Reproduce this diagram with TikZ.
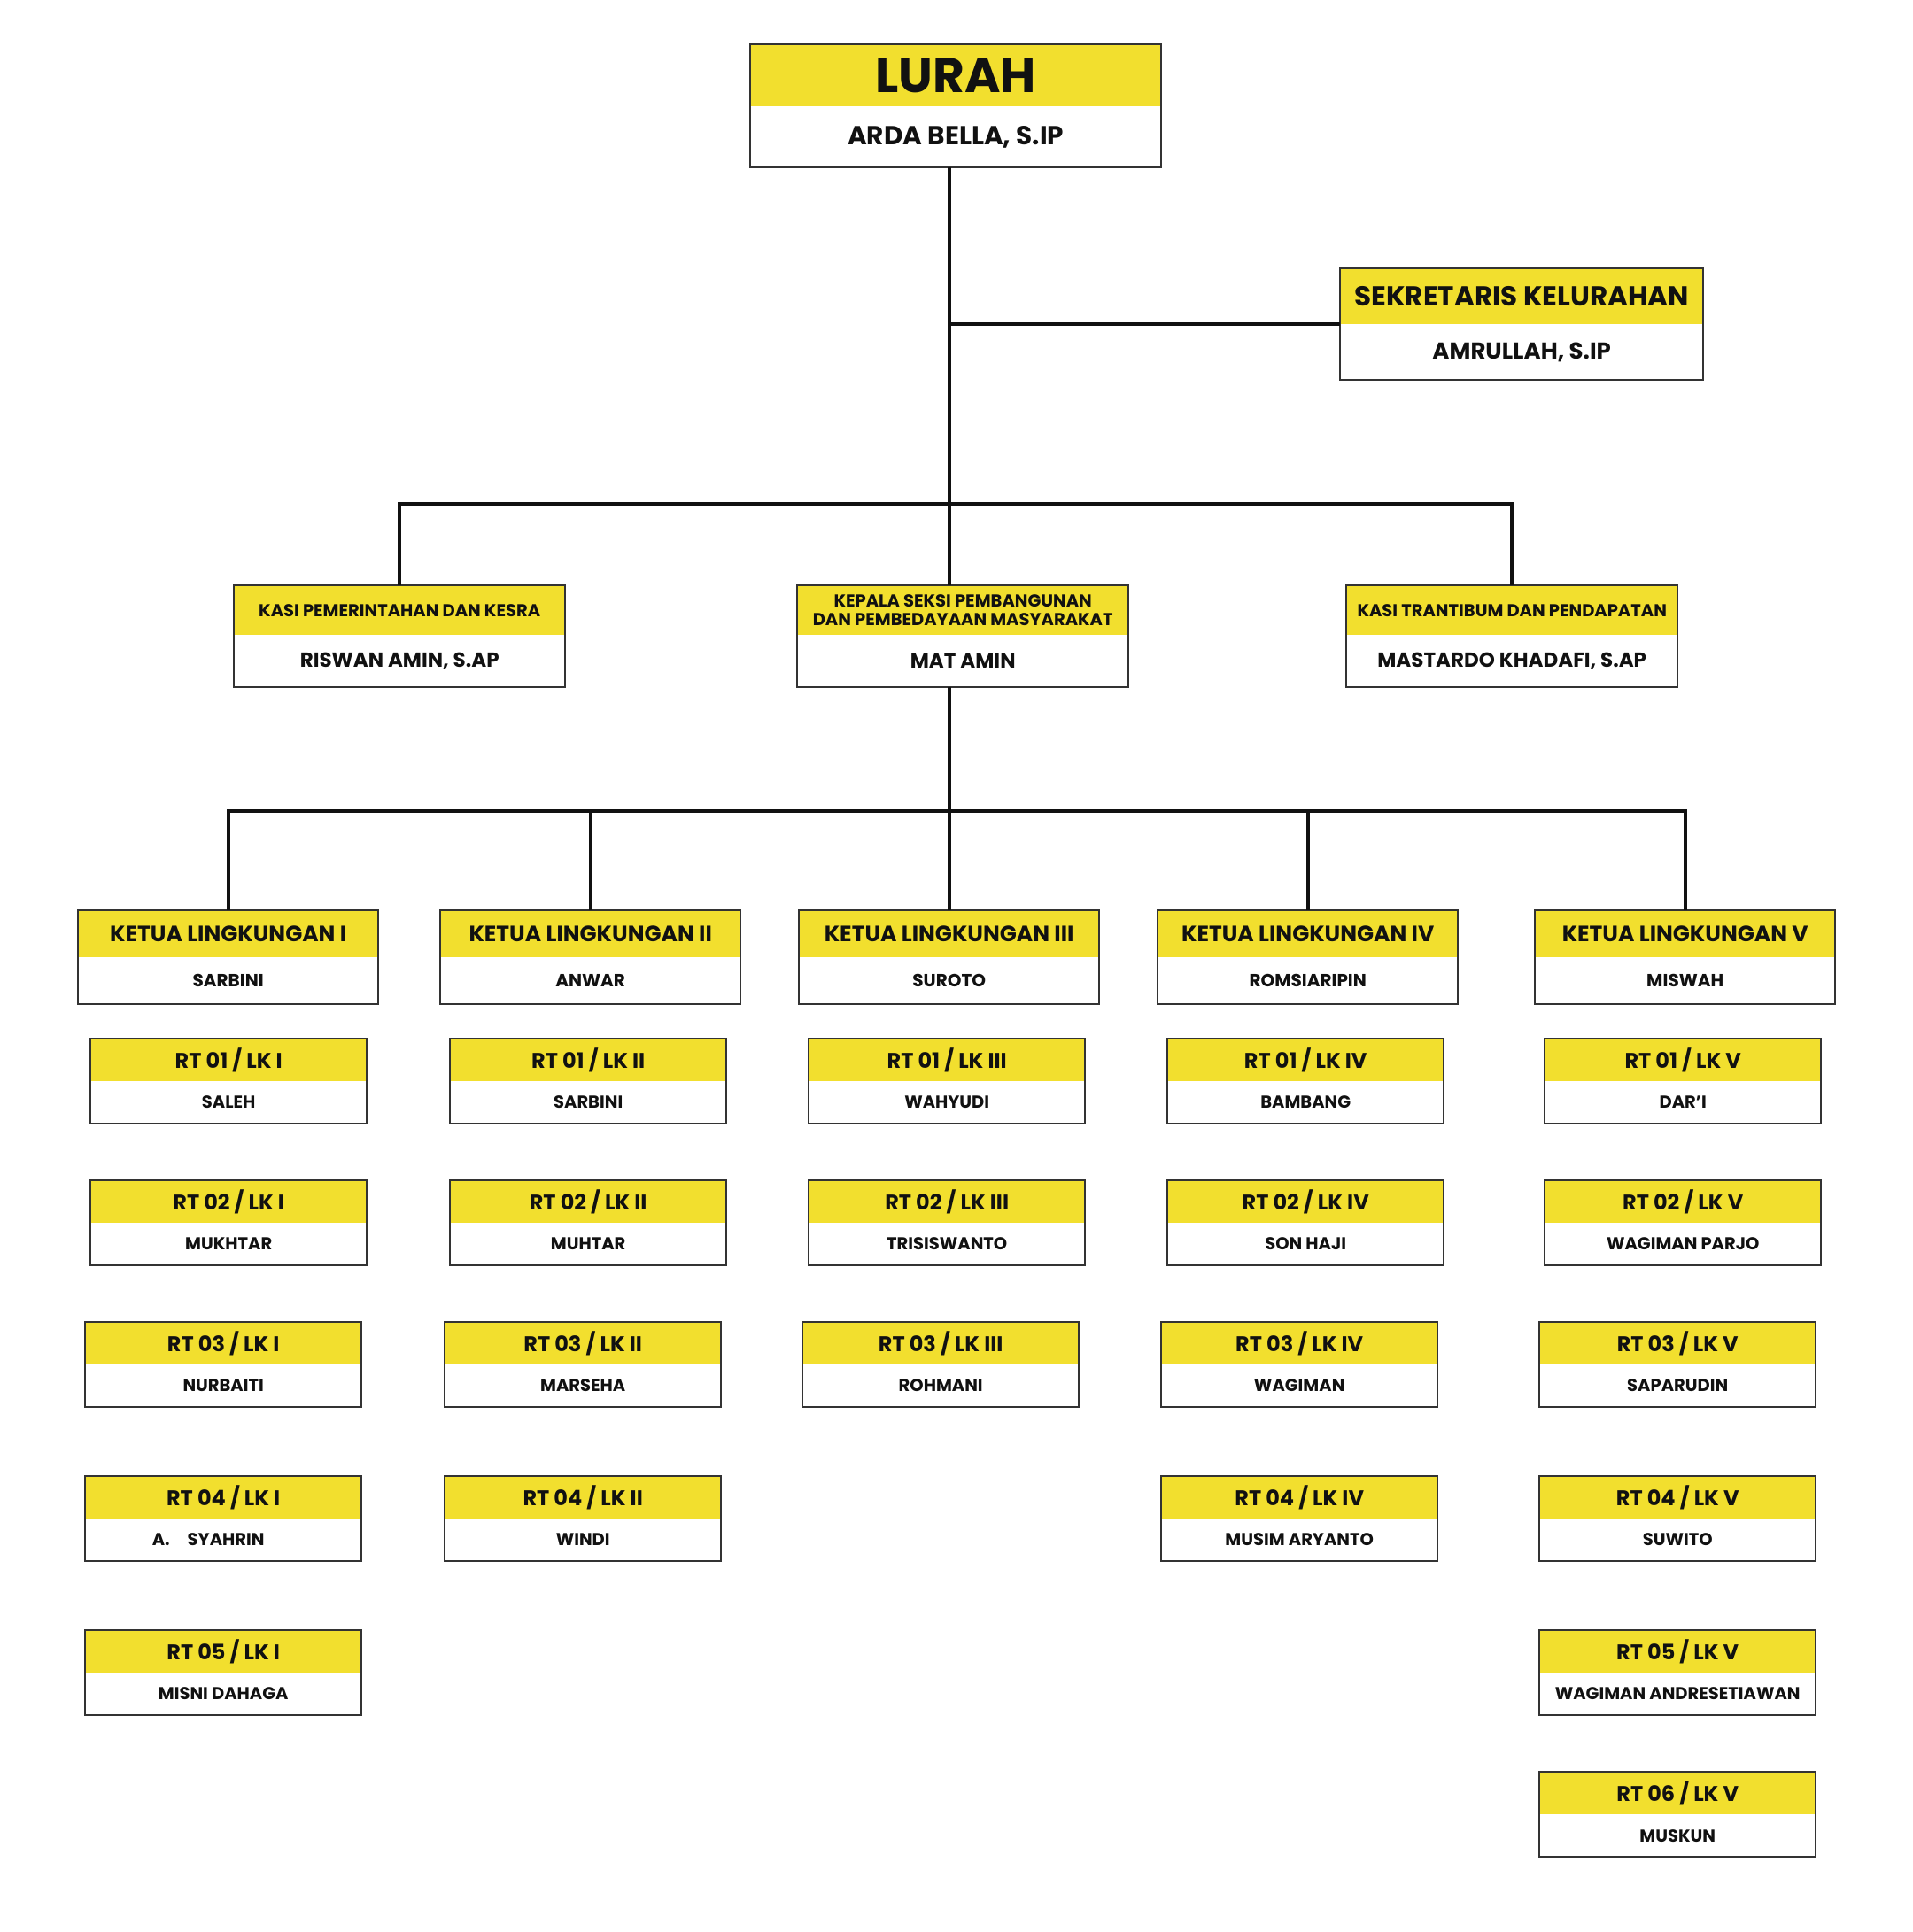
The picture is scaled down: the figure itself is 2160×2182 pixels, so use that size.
\documentclass[tikz,border=0pt]{standalone}
\usepackage{fontspec}
\setmainfont{Poppins}
\usetikzlibrary{positioning}
\definecolor{orgYellow}{HTML}{F2DF2E}
\definecolor{orgFrame}{HTML}{333333}
\definecolor{orgInk}{HTML}{111111}
\tikzset{
  hd/.style={fill=orgYellow, inner sep=0pt, anchor=north west, align=center, text=orgInk},
  nm/.style={fill=white, inner sep=0pt, align=center, text=orgInk},
  boxframe/.style={draw=orgFrame, line width=2pt},
  conn/.style={draw=orgInk, line width=4pt},
  lurahT/.style={hd, minimum width=464pt, minimum height=70pt, font=\bfseries\fontsize{55}{60}\selectfont},
  lurahN/.style={nm, minimum width=464pt, minimum height=68pt, font=\bfseries\fontsize{29.5}{32}\selectfont},
  sekT/.style={hd, minimum width=410pt, minimum height=63pt, font=\bfseries\fontsize{31}{34}\selectfont},
  sekN/.style={nm, minimum width=410pt, minimum height=62pt, font=\bfseries\fontsize{26}{29}\selectfont},
  kasiT/.style={hd, minimum width=374pt, minimum height=56pt, font=\bfseries\fontsize{19.5}{21.5}\selectfont},
  kasiN/.style={nm, minimum width=374pt, minimum height=58pt, font=\bfseries\fontsize{23}{26}\selectfont},
  ketT/.style={hd, minimum width=339pt, minimum height=53pt, font=\bfseries\fontsize{25}{28}\selectfont},
  ketN/.style={nm, minimum width=339pt, minimum height=52pt, font=\bfseries\fontsize{20}{23}\selectfont},
  rtT/.style={hd, minimum width=312pt, minimum height=48pt, font=\bfseries\fontsize{24}{27}\selectfont},
  rtN/.style={nm, minimum width=312pt, minimum height=47pt, font=\bfseries\fontsize{19.5}{22}\selectfont},
}

\begin{document}
\begin{tikzpicture}[x=1pt, y=-1pt]
  \fill[white] (0,0) rectangle (2160,2182);
  \useasboundingbox (0,0) rectangle (2160,2182);

  % pimpinan
  \node[lurahT] (lurah) at (847,50) {LURAH};
  \node[lurahN, below=0pt of lurah] (lurah-n) {ARDA BELLA, S.IP};
  \node[sekT] (sek) at (1513,303) {SEKRETARIS KELURAHAN};
  \node[sekN, below=0pt of sek] (sek-n) {AMRULLAH, S.IP};

  % kasi
  \node[kasiT] (kA) at (264,661) {KASI PEMERINTAHAN DAN KESRA};
  \node[kasiN, below=0pt of kA] (kA-n) {RISWAN AMIN, S.AP};
  \node[kasiT] (kB) at (900,661) {KEPALA SEKSI PEMBANGUNAN\\DAN PEMBEDAYAAN MASYARAKAT};
  \node[kasiN, below=0pt of kB] (kB-n) {MAT AMIN};
  \node[kasiT] (kC) at (1520,661) {KASI TRANTIBUM DAN PENDAPATAN};
  \node[kasiN, below=0pt of kC] (kC-n) {MASTARDO KHADAFI, S.AP};

  % ketua lingkungan
  \node[ketT] (k1) at (88,1028) {KETUA LINGKUNGAN I};
  \node[ketN, below=0pt of k1] (k1-n) {SARBINI};
  \node[ketT] (k2) at (497,1028) {KETUA LINGKUNGAN II};
  \node[ketN, below=0pt of k2] (k2-n) {ANWAR};
  \node[ketT] (k3) at (902,1028) {KETUA LINGKUNGAN III};
  \node[ketN, below=0pt of k3] (k3-n) {SUROTO};
  \node[ketT] (k4) at (1307,1028) {KETUA LINGKUNGAN IV};
  \node[ketN, below=0pt of k4] (k4-n) {ROMSIARIPIN};
  \node[ketT] (k5) at (1733,1028) {KETUA LINGKUNGAN V};
  \node[ketN, below=0pt of k5] (k5-n) {MISWAH};

  % RT lingkungan I
  \node[rtT] (r11) at (102,1173) {RT 01 / LK I};
  \node[rtN, below=0pt of r11] (r11-n) {SALEH};
  \node[rtT] (r12) at (102,1333) {RT 02 / LK I};
  \node[rtN, below=0pt of r12] (r12-n) {MUKHTAR};
  \node[rtT] (r13) at (96,1493) {RT 03 / LK I};
  \node[rtN, below=0pt of r13] (r13-n) {NURBAITI};
  \node[rtT] (r14) at (96,1667) {RT 04 / LK I};
  \node[rtN, below=0pt of r14] (r14-n) {A.\hspace{20pt}SYAHRIN\hspace*{34pt}};
  \node[rtT] (r15) at (96,1841) {RT 05 / LK I};
  \node[rtN, below=0pt of r15] (r15-n) {MISNI DAHAGA};

  % RT lingkungan II
  \node[rtT] (r21) at (508,1173) {RT 01 / LK II};
  \node[rtN, below=0pt of r21] (r21-n) {SARBINI};
  \node[rtT] (r22) at (508,1333) {RT 02 / LK II};
  \node[rtN, below=0pt of r22] (r22-n) {MUHTAR};
  \node[rtT] (r23) at (502,1493) {RT 03 / LK II};
  \node[rtN, below=0pt of r23] (r23-n) {MARSEHA};
  \node[rtT] (r24) at (502,1667) {RT 04 / LK II};
  \node[rtN, below=0pt of r24] (r24-n) {WINDI};

  % RT lingkungan III
  \node[rtT] (r31) at (913,1173) {RT 01 / LK III};
  \node[rtN, below=0pt of r31] (r31-n) {WAHYUDI};
  \node[rtT] (r32) at (913,1333) {RT 02 / LK III};
  \node[rtN, below=0pt of r32] (r32-n) {TRISISWANTO};
  \node[rtT] (r33) at (906,1493) {RT 03 / LK III};
  \node[rtN, below=0pt of r33] (r33-n) {ROHMANI};

  % RT lingkungan IV
  \node[rtT] (r41) at (1318,1173) {RT 01 / LK IV};
  \node[rtN, below=0pt of r41] (r41-n) {BAMBANG};
  \node[rtT] (r42) at (1318,1333) {RT 02 / LK IV};
  \node[rtN, below=0pt of r42] (r42-n) {SON HAJI};
  \node[rtT] (r43) at (1311,1493) {RT 03 / LK IV};
  \node[rtN, below=0pt of r43] (r43-n) {WAGIMAN};
  \node[rtT] (r44) at (1311,1667) {RT 04 / LK IV};
  \node[rtN, below=0pt of r44] (r44-n) {MUSIM ARYANTO};

  % RT lingkungan V
  \node[rtT] (r51) at (1744,1173) {RT 01 / LK V};
  \node[rtN, below=0pt of r51] (r51-n) {DAR'I};
  \node[rtT] (r52) at (1744,1333) {RT 02 / LK V};
  \node[rtN, below=0pt of r52] (r52-n) {WAGIMAN PARJO};
  \node[rtT] (r53) at (1738,1493) {RT 03 / LK V};
  \node[rtN, below=0pt of r53] (r53-n) {SAPARUDIN};
  \node[rtT] (r54) at (1738,1667) {RT 04 / LK V};
  \node[rtN, below=0pt of r54] (r54-n) {SUWITO};
  \node[rtT] (r55) at (1738,1841) {RT 05 / LK V};
  \node[rtN, below=0pt of r55] (r55-n) {WAGIMAN ANDRESETIAWAN};
  \node[rtT] (r56) at (1738,2001) {RT 06 / LK V};
  \node[rtN, below=0pt of r56] (r56-n) {MUSKUN};

  % bingkai
  \foreach \b in {lurah,sek,kA,kB,kC,k1,k2,k3,k4,k5,
                  r11,r12,r13,r14,r15,r21,r22,r23,r24,r31,r32,r33,
                  r41,r42,r43,r44,r51,r52,r53,r54,r55,r56}
    \draw[boxframe] (\b.north west) rectangle (\b-n.south east);

  % garis
  \draw[conn] (lurah-n.south -| k3.north) -- (k3.north |- kB.north);
  \draw[conn] (sek.south west) -- (sek.south west -| k3.north);
  \draw[conn] (kA.north) -- ++(0,-92) -| (kC.north);
  \draw[conn] (kB-n.south -| k3.north) -- (k3.north);
  \draw[conn] (k1.north) -- ++(0,-112) -| (k5.north);
  \draw[conn] (k2.north) -- ++(0,-112);
  \draw[conn] (k4.north) -- ++(0,-112);
\end{tikzpicture}
\end{document}
